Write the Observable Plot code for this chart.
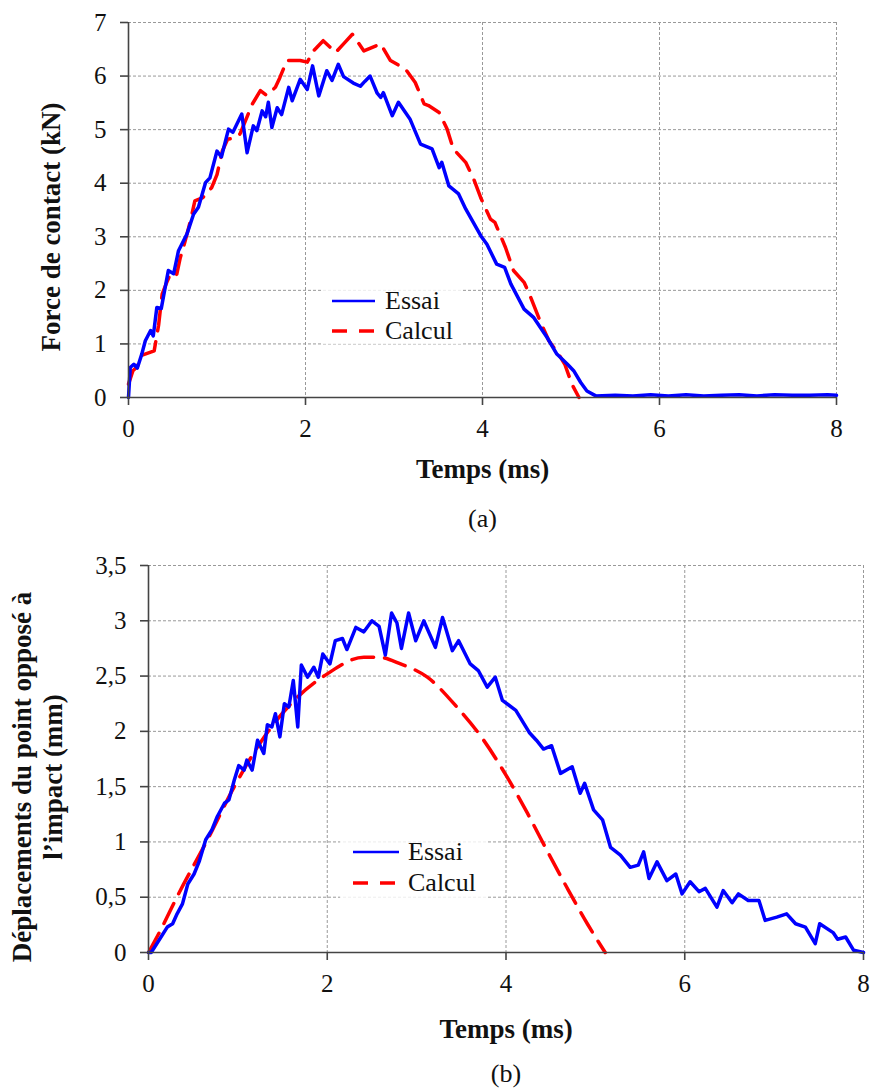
<!DOCTYPE html>
<html>
<head>
<meta charset="utf-8">
<script src="https://cdn.jsdelivr.net/npm/d3@7"></script>
<script src="https://cdn.jsdelivr.net/npm/@observablehq/plot@0.6"></script>
<style>
  html, body { margin: 0; padding: 0; background: #fff; }
  #wrap { position: relative; width: 872px; height: 1088px; overflow: hidden; font-family: "Liberation Serif", "Times New Roman", serif; }
  #wrap svg { display: block; }
  .legend { position: absolute; background: rgba(255,255,255,0.82); }
  .legend .row { position: absolute; left: 0; display: flex; align-items: center; font-size: 26px; color: #111; line-height: 1; white-space: nowrap; }
  .legend .row svg { display: block; }
</style>
</head>
<body>
<div id="wrap"></div>
<script>
// ---------- data ----------
const timeTicks = [0, 2, 4, 6, 8];
const forceTicks = [0, 1, 2, 3, 4, 5, 6, 7];
const deplTicks = [0, 0.5, 1, 1.5, 2, 2.5, 3, 3.5];
const seriesNames = ["Essai", "Calcul"];

// (a) Force de contact — Essai
const forceEssaiT = [0, 0.02, 0.06, 0.10, 0.15, 0.19, 0.25, 0.28, 0.32, 0.37, 0.45, 0.51, 0.565, 0.66, 0.735, 0.79, 0.87, 0.92, 1.0, 1.05, 1.13, 1.18, 1.28, 1.34, 1.41, 1.45, 1.51, 1.55, 1.58, 1.62, 1.68, 1.73, 1.81, 1.85, 1.94, 2.02, 2.08, 2.15, 2.24, 2.30, 2.37, 2.43, 2.54, 2.62, 2.67, 2.73, 2.81, 2.85, 2.88, 2.98, 3.05, 3.18, 3.30, 3.43, 3.51, 3.54, 3.62, 3.73, 3.81, 3.98, 4.05, 4.16, 4.25, 4.32, 4.47, 4.58, 4.73, 4.84, 4.96, 5.03, 5.11, 5.18, 5.28, 5.5, 5.7, 5.9, 6.1, 6.3, 6.5, 6.7, 6.9, 7.1, 7.3, 7.5, 7.7, 7.9, 8.0];
const forceEssaiV = [0, 0.56, 0.62, 0.55, 0.81, 1.06, 1.25, 1.15, 1.68, 1.66, 2.37, 2.31, 2.74, 3.05, 3.42, 3.55, 4.01, 4.10, 4.60, 4.49, 5.01, 4.95, 5.29, 4.57, 5.07, 4.98, 5.35, 5.24, 5.51, 5.04, 5.41, 5.28, 5.79, 5.54, 5.94, 5.75, 6.19, 5.63, 6.10, 5.92, 6.22, 5.99, 5.87, 5.81, 5.90, 6.00, 5.68, 5.60, 5.69, 5.26, 5.51, 5.20, 4.73, 4.64, 4.29, 4.39, 3.95, 3.80, 3.52, 3.02, 2.86, 2.49, 2.43, 2.12, 1.65, 1.49, 1.12, 0.81, 0.62, 0.50, 0.28, 0.12, 0.03, 0.04, 0.03, 0.05, 0.03, 0.05, 0.03, 0.04, 0.05, 0.03, 0.05, 0.04, 0.04, 0.05, 0.04];

// (a) Force de contact — Calcul
const forceCalculT = [0, 0.05, 0.10, 0.14, 0.29, 0.34, 0.38, 0.44, 0.49, 0.545, 0.585, 0.64, 0.70, 0.75, 0.84, 0.94, 1.00, 1.06, 1.12, 1.21, 1.26, 1.32, 1.40, 1.49, 1.56, 1.66, 1.71, 1.79, 1.94, 2.02, 2.09, 2.20, 2.34, 2.43, 2.53, 2.66, 2.79, 2.85, 2.96, 3.13, 3.24, 3.34, 3.39, 3.51, 3.60, 3.67, 3.81, 3.90, 3.98, 4.09, 4.14, 4.26, 4.35, 4.47, 4.53, 4.65, 4.75, 4.86, 4.93, 5.01, 5.09];
const forceCalculV = [0.25, 0.50, 0.58, 0.78, 0.87, 1.35, 1.93, 2.18, 2.37, 2.30, 2.61, 2.92, 3.30, 3.67, 3.73, 3.92, 4.16, 4.60, 4.82, 4.85, 4.92, 5.16, 5.48, 5.73, 5.64, 5.79, 5.97, 6.29, 6.29, 6.26, 6.47, 6.66, 6.44, 6.60, 6.78, 6.47, 6.56, 6.60, 6.29, 6.13, 5.88, 5.48, 5.45, 5.32, 5.01, 4.64, 4.39, 4.08, 3.73, 3.33, 3.27, 2.80, 2.37, 2.15, 1.93, 1.43, 1.06, 0.81, 0.62, 0.25, 0];

// (b) Déplacements — Essai
const deplEssaiT = [0, 0.03, 0.14, 0.21, 0.27, 0.32, 0.38, 0.44, 0.51, 0.57, 0.64, 0.71, 0.77, 0.85, 0.90, 0.96, 1.01, 1.07, 1.10, 1.16, 1.22, 1.29, 1.33, 1.38, 1.42, 1.47, 1.52, 1.57, 1.62, 1.67, 1.71, 1.78, 1.85, 1.90, 1.95, 2.03, 2.09, 2.17, 2.22, 2.32, 2.41, 2.50, 2.58, 2.65, 2.72, 2.78, 2.83, 2.91, 2.99, 3.08, 3.21, 3.29, 3.40, 3.47, 3.60, 3.69, 3.79, 3.88, 3.96, 4.11, 4.26, 4.34, 4.42, 4.51, 4.61, 4.74, 4.83, 4.88, 4.98, 5.08, 5.17, 5.28, 5.39, 5.48, 5.54, 5.60, 5.69, 5.80, 5.90, 5.97, 6.06, 6.16, 6.23, 6.36, 6.43, 6.53, 6.60, 6.71, 6.83, 6.90, 7.03, 7.14, 7.24, 7.35, 7.46, 7.51, 7.66, 7.71, 7.80, 7.89, 8.0];
const deplEssaiV = [0, 0, 0.14, 0.23, 0.26, 0.35, 0.44, 0.62, 0.71, 0.83, 1.02, 1.11, 1.23, 1.35, 1.38, 1.56, 1.69, 1.65, 1.74, 1.65, 1.92, 1.80, 2.06, 2.04, 2.16, 1.95, 2.25, 2.22, 2.46, 2.04, 2.60, 2.49, 2.58, 2.49, 2.70, 2.61, 2.82, 2.84, 2.74, 2.94, 2.90, 3.00, 2.95, 2.69, 3.07, 2.98, 2.75, 3.07, 2.82, 3.00, 2.76, 3.03, 2.73, 2.82, 2.61, 2.55, 2.40, 2.49, 2.28, 2.19, 1.99, 1.92, 1.84, 1.87, 1.62, 1.68, 1.44, 1.53, 1.29, 1.20, 0.95, 0.88, 0.77, 0.79, 0.91, 0.67, 0.82, 0.65, 0.71, 0.53, 0.64, 0.55, 0.58, 0.41, 0.56, 0.45, 0.53, 0.47, 0.47, 0.29, 0.32, 0.35, 0.26, 0.23, 0.08, 0.26, 0.18, 0.12, 0.14, 0.02, 0];

// (b) Déplacements — Calcul
const deplCalculT = [0, 0.14, 0.33, 0.66, 0.96, 1.27, 1.63, 2.00, 2.41, 2.58, 2.82, 3.12, 3.45, 3.75, 4.01, 4.24, 4.46, 4.68, 4.91, 5.11];
const deplCalculV = [0, 0.21, 0.52, 1.02, 1.50, 1.92, 2.28, 2.52, 2.67, 2.67, 2.61, 2.49, 2.22, 1.92, 1.59, 1.26, 0.92, 0.59, 0.26, 0];

// ---------- helpers ----------
const zip = (T, V) => T.map((t, i) => ({t, v: V[i]}));
const FONT = '"Liberation Serif", "Times New Roman", serif';
const GRID = {stroke: "#999", strokeOpacity: 1, strokeWidth: 1, strokeDasharray: "3,2"};
const AXIS = {stroke: "#444", strokeWidth: 1.6};
const BLUE = "#0000ff", RED = "#ff0000";
const DASH = "22,11";
const comma = d => String(d).replace(".", ",");

function chart({height, marginTop, marginBottom, marginLeft, marginRight, yDomain, yTicks, essai, calcul, calcCurve, ylabel, ylabelDx, ylabelDy, xlabelDy, captionDy, caption}) {
  return Plot.plot({
    width: 872, height, marginTop, marginBottom, marginLeft, marginRight,
    style: {fontFamily: FONT, color: "#111", background: "#fff", overflow: "visible"},
    x: {domain: [0, 8]},
    y: {domain: yDomain},
    marks: [
      Plot.gridX(timeTicks.filter(d => d > 0), GRID),
      Plot.gridY(yTicks.filter(d => d > 0), GRID),
      Plot.line(calcul, {x: "t", y: "v", stroke: RED, strokeWidth: 3.5, strokeDasharray: DASH, curve: calcCurve}),
      Plot.line(essai, {x: "t", y: "v", stroke: BLUE, strokeWidth: 3.5}),
      Plot.ruleY([yDomain[0]], AXIS),
      Plot.ruleX([0], AXIS),
      Plot.axisX(timeTicks, {tickSize: 8, tickPadding: 14, fontSize: 25, label: null, stroke: "#444", strokeWidth: 1.6}),
      Plot.axisY(yTicks, {tickSize: 8, tickPadding: 14, fontSize: 25, label: null, stroke: "#444", strokeWidth: 1.6, tickFormat: comma}),
      Plot.text(["Temps (ms)"], {text: d => d, frameAnchor: "bottom", textAnchor: "middle", lineAnchor: "middle", dy: xlabelDy, fontSize: 27, fontWeight: "bold"}),
      Plot.text([caption], {text: d => d, frameAnchor: "bottom", textAnchor: "middle", lineAnchor: "middle", dy: captionDy, fontSize: 26}),
      Plot.text([ylabel], {text: d => d, frameAnchor: "left", textAnchor: "middle", lineAnchor: "middle", rotate: -90, dx: ylabelDx, dy: ylabelDy, fontSize: 27, fontWeight: "bold", lineHeight: 1.15})
    ]
  });
}

const wrap = document.getElementById("wrap");

wrap.appendChild(chart({
  height: 540, marginTop: 22, marginBottom: 143, marginLeft: 128, marginRight: 36,
  yDomain: [0, 7], yTicks: forceTicks,
  essai: zip(forceEssaiT, forceEssaiV), calcul: zip(forceCalculT, forceCalculV), calcCurve: "linear",
  ylabel: "Force de contact (kN)", ylabelDx: -78, ylabelDy: 17,
  xlabelDy: 72, captionDy: 121, caption: "(a)"
}));

wrap.appendChild(chart({
  height: 548, marginTop: 25, marginBottom: 136, marginLeft: 148, marginRight: 9,
  yDomain: [0, 3.5], yTicks: deplTicks,
  essai: zip(deplEssaiT, deplEssaiV), calcul: zip(deplCalculT, deplCalculV), calcCurve: "monotone-x",
  ylabel: "Déplacements du point opposé à\nl’impact (mm)", ylabelDx: -112, ylabelDy: 18,
  xlabelDy: 77, captionDy: 121, caption: "(b)"
}));

// ---------- legends (HTML overlay inside plot areas) ----------
function legend({left, top, width, height, sampleX, sampleW, textX, rowYs}) {
  const box = document.createElement("div");
  box.className = "legend";
  Object.assign(box.style, {left: left + "px", top: top + "px", width: width + "px", height: height + "px"});
  seriesNames.forEach((name, i) => {
    const row = document.createElement("div");
    row.className = "row";
    row.style.top = (rowYs[i] - top - 13) + "px";
    row.style.height = "26px";
    row.style.left = (sampleX - left) + "px";
    const color = i === 0 ? BLUE : RED;
    const dash = i === 0 ? "" : `stroke-dasharray="15,12"`;
    const sw = i === 0 ? 2.5 : 3.5;
    row.innerHTML = `<svg width="${sampleW}" height="26"><line x1="0" x2="${sampleW}" y1="13" y2="13" stroke="${color}" stroke-width="${sw}" ${dash}/></svg><span style="margin-left:${textX - sampleX - sampleW}px">${name}</span>`;
    box.appendChild(row);
  });
  wrap.appendChild(box);
}
legend({left: 321, top: 287, width: 141, height: 57, sampleX: 332, sampleW: 43, textX: 385, rowYs: [301, 331]});
legend({left: 340, top: 841, width: 148, height: 57, sampleX: 353, sampleW: 46, textX: 408, rowYs: [852, 883]});
</script>
</body>
</html>
